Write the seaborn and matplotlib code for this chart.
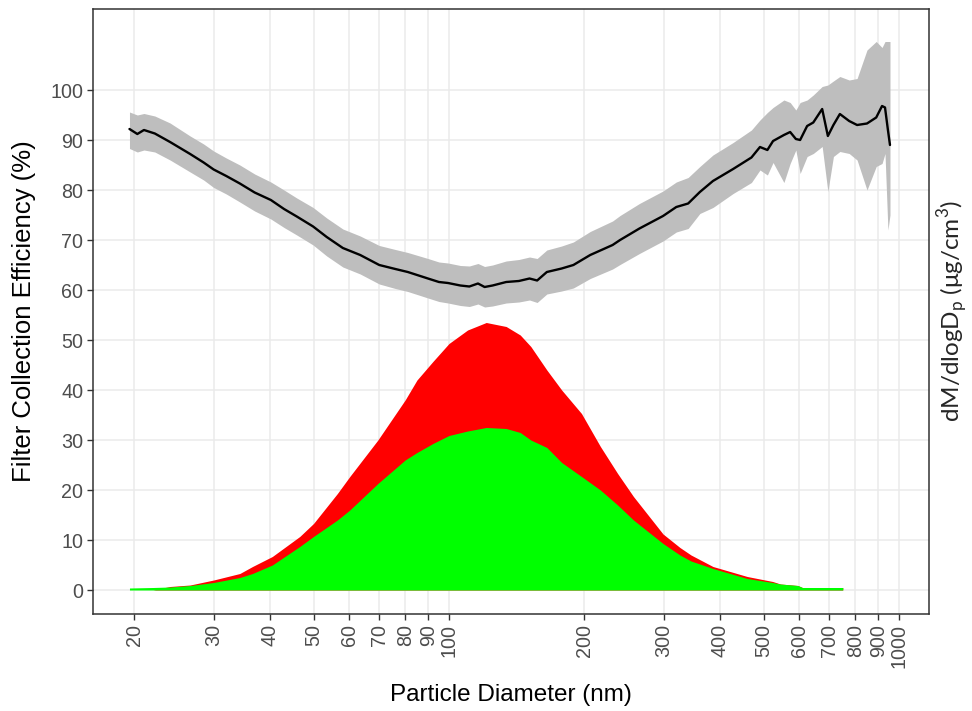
import numpy as np
import pandas as pd
import matplotlib
matplotlib.use("Agg")
import matplotlib.pyplot as plt
import seaborn as sns

# ---- Filter collection efficiency (line + ribbon) ----
eff_diam = [19.5, 20.3, 21.0, 22.2, 24.0, 26.6, 28.5, 30.0, 32.0, 34.3, 37.0, 40.2, 43.0,
            45.9, 49.9, 53.5, 58.1, 63.5, 70.0, 76.0, 81.0, 89.8, 95.0, 99.5, 106, 111,
            116, 120, 125, 134, 143, 151, 157, 165, 178, 189, 206, 231, 240, 265, 299,
            320, 340, 361, 386, 428, 470, 491, 510, 525, 555, 573, 590, 603, 625, 645,
            675, 695, 715, 739, 775, 807, 849, 890, 917, 931, 945, 955]
eff_mean = [92.2, 91.2, 92.0, 91.3, 89.6, 87.2, 85.5, 84.1, 82.8, 81.3, 79.5, 78.0, 76.2,
            74.7, 72.7, 70.6, 68.4, 67.0, 65.0, 64.2, 63.6, 62.3, 61.6, 61.4, 60.9, 60.7,
            61.3, 60.6, 60.9, 61.6, 61.8, 62.3, 61.9, 63.6, 64.3, 65.0, 67.0, 69.0, 70.0,
            72.3, 74.8, 76.6, 77.3, 79.6, 81.8, 84.2, 86.5, 88.6, 88.0, 89.8, 91.0, 91.6,
            90.2, 90.0, 92.8, 93.5, 96.2, 90.8, 93.0, 95.2, 93.8, 93.0, 93.3, 94.5, 96.8,
            96.5, 92.0, 89.0]
eff_low = [88.3, 87.6, 88.0, 87.6, 86.0, 83.6, 82.0, 80.5, 79.2, 77.6, 75.8, 74.2, 72.5,
           71.0, 69.0, 66.8, 64.6, 63.2, 61.2, 60.3, 59.7, 58.4, 57.7, 57.4, 56.9, 56.7,
           57.2, 56.6, 56.8, 57.4, 57.6, 58.0, 57.5, 59.2, 59.8, 60.4, 62.3, 64.2, 65.1,
           67.3, 69.8, 71.6, 72.3, 75.3, 76.5, 79.3, 81.5, 84.0, 83.0, 85.5, 81.5, 85.3,
           88.0, 83.3, 86.7, 87.3, 88.7, 79.7, 86.7, 87.7, 87.3, 86.0, 80.0, 84.7, 85.3,
           87.3, 72.0, 75.0]
eff_high = [95.6, 95.0, 95.3, 94.8, 93.4, 90.8, 89.2, 87.8, 86.4, 85.0, 83.2, 81.6, 80.0,
            78.4, 76.5, 74.4, 72.2, 70.8, 68.9, 68.1, 67.5, 66.3, 65.6, 65.4, 64.9, 64.8,
            65.3, 64.7, 65.0, 65.8, 66.1, 66.6, 66.3, 68.0, 68.8, 69.6, 71.7, 73.8, 74.9,
            77.3, 79.8, 81.6, 82.5, 84.7, 87.0, 89.5, 92.0, 94.0, 95.5, 96.5, 98.0, 97.5,
            96.0, 97.5, 98.0, 99.0, 100.7, 101.0, 101.8, 102.7, 102.0, 102.3, 108.0, 109.7,
            108.5, 109.7, 109.7, 109.7]

# ---- Mass size distributions (dM/dlogDp) ----
dist_diam = [19.5, 22, 24, 26.6, 30, 34.3, 36.6, 40.5, 46.6, 50, 56.5, 60.2, 69.5, 79.9,
             84.9, 92.1, 100, 110, 121, 134, 144, 152, 165, 178, 197, 217, 237, 257, 299,
             326, 345, 386, 460, 524, 545, 596, 610, 750]
dist_upstream = [0, 0, 0.7, 1.0, 2.0, 3.3, 4.7, 6.7, 10.7, 13.3, 19.3, 22.7, 30.0, 38.0,
                 42.0, 45.7, 49.3, 52.0, 53.5, 52.7, 51.0, 48.7, 44.0, 40.0, 35.3, 28.7,
                 23.3, 18.7, 11.2, 8.5, 7.0, 4.7, 2.7, 1.7, 1.2, 0.9, 0.5, 0.5]
dist_downstream = [0.4, 0.5, 0.6, 0.9, 1.5, 2.5, 3.3, 5.0, 8.7, 10.7, 14.0, 16.0, 21.3, 26.0,
                   27.5, 29.3, 30.9, 31.8, 32.5, 32.3, 31.5, 30.0, 28.5, 25.5, 22.7, 20.0,
                   17.0, 14.0, 9.3, 7.0, 5.8, 4.3, 2.3, 1.5, 1.2, 0.9, 0.5, 0.5]

x_ticks = [20, 30, 40, 50, 60, 70, 80, 90, 100, 200, 300, 400, 500, 600, 700, 800, 900, 1000]
y_ticks = [0, 10, 20, 30, 40, 50, 60, 70, 80, 90, 100]

sns.set_style("white")
plt.rcParams['font.family'] = ['Liberation Sans', 'DejaVu Sans']

fig = plt.figure(figsize=(9.72, 7.11), dpi=100)
ax = fig.add_axes([93/972, 1 - 614/711, (929 - 93)/972, (614 - 9)/711])

ax.set_xscale('log')
ax.set_xlim(16.18, 1166)
ax.set_ylim(-4.8, 116.2)

grid_c = '#EBEBEB'
for xt in x_ticks:
    ax.axvline(xt, color=grid_c, lw=1.1, zorder=0)
for yt in y_ticks:
    ax.axhline(yt, color=grid_c, lw=1.1, zorder=0)

df_dist = pd.DataFrame({'d': dist_diam, 'up': dist_upstream, 'down': dist_downstream})
ax.fill_between(df_dist['d'], 0, df_dist['up'], color='#FF0000', lw=0, zorder=2)
ax.fill_between(df_dist['d'], 0, df_dist['down'], color='#00FF00', lw=0, zorder=3)

df_eff = pd.DataFrame({'d': eff_diam, 'eff': eff_mean, 'lo': eff_low, 'hi': eff_high})
ax.fill_between(df_eff['d'], df_eff['lo'], df_eff['hi'], color='#BEBEBE', lw=0, zorder=4)
sns.lineplot(data=df_eff, x='d', y='eff', color='black', lw=1.7, estimator=None,
             sort=False, ax=ax, zorder=5)

ax.set_xticks(x_ticks)
ax.set_xticklabels([str(t) for t in x_ticks], rotation=90)
ax.xaxis.set_minor_locator(matplotlib.ticker.NullLocator())
ax.set_yticks(y_ticks)
ax.set_yticklabels([str(t) for t in y_ticks])

ax.tick_params(axis='both', which='major', length=4, width=1.0, color='#333333',
               labelsize=14.2, labelcolor='#4D4D4D', pad=3, direction='out',
               bottom=True, left=True)

for s in ax.spines.values():
    s.set_color('#333333')
    s.set_linewidth(1.1)

ax.set_xlabel('Particle Diameter (nm)', fontsize=17.5, color='black', labelpad=12)
ax.set_ylabel('Filter Collection Efficiency (%)', fontsize=18.5, color='black', labelpad=10)

fig.text(953/972, 1 - 311/711, r'dM/dlogD$_\mathregular{p}$ (μg/cm$^\mathregular{3}$)',
         rotation=90, ha='center', va='center', fontsize=17.5, family=['Lato', 'DejaVu Sans'])

fig.savefig('out.png', dpi=100)
